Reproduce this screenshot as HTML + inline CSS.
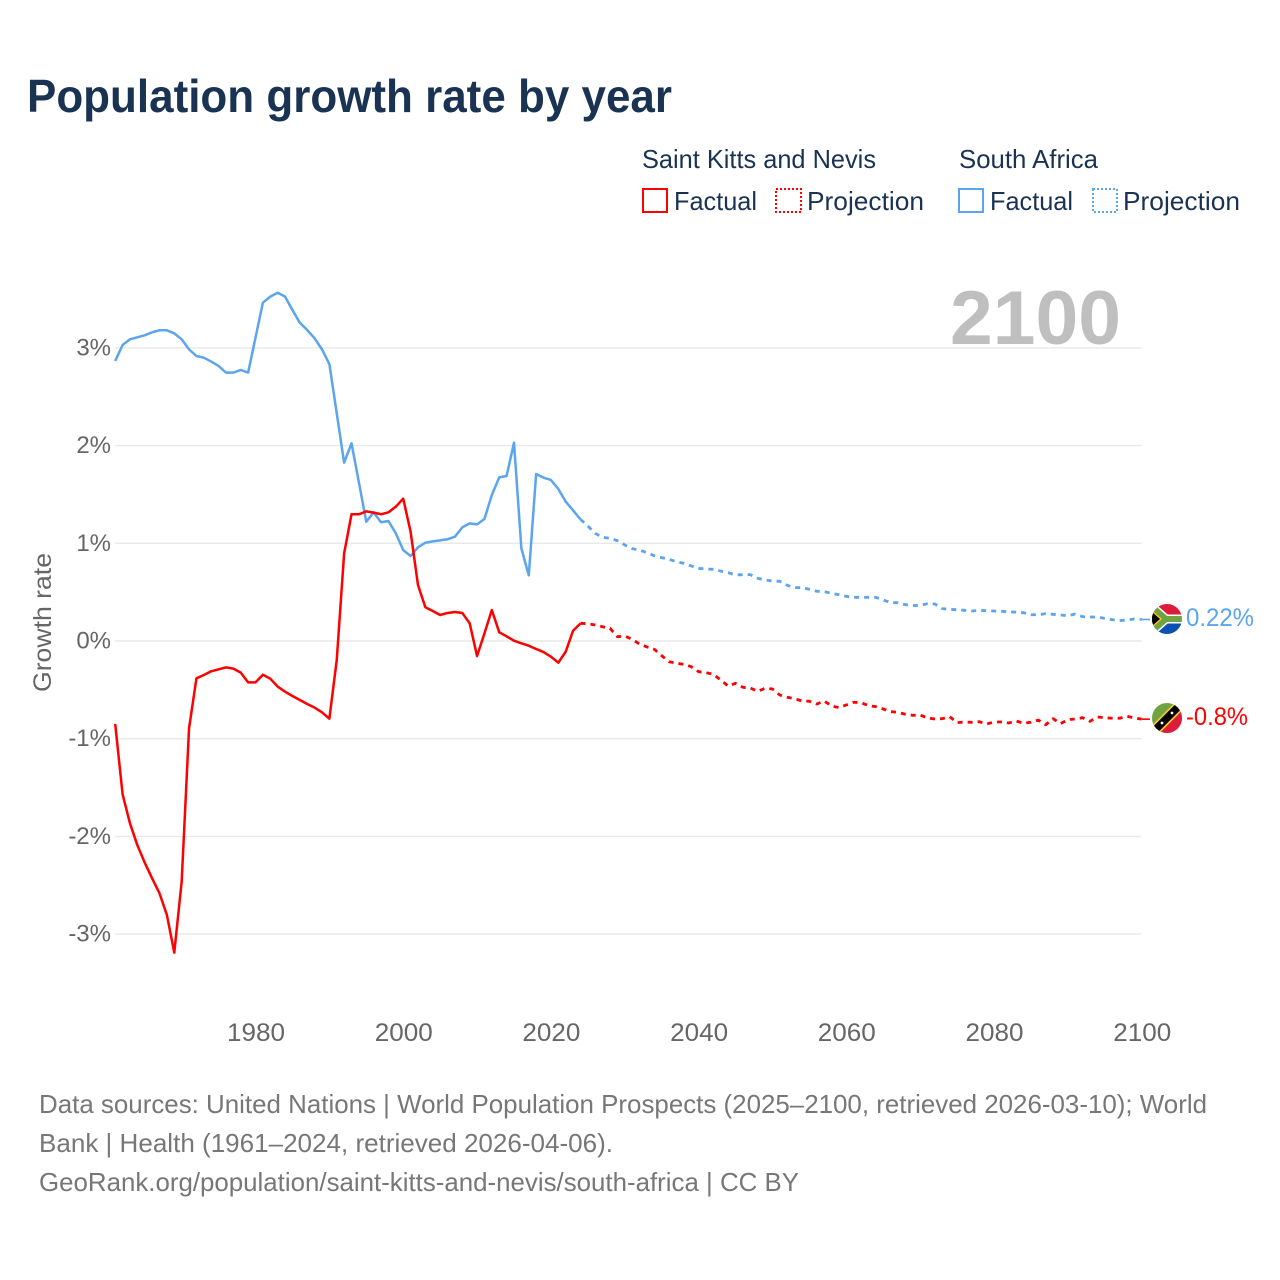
<!DOCTYPE html>
<html lang="en">
<head>
<meta charset="utf-8">
<title>Population growth rate by year</title>
<style>
html,body{margin:0;padding:0;background:#fff;width:1280px;height:1280px;overflow:hidden}
svg{display:block;font-family:"Liberation Sans",sans-serif}
</style>
</head>
<body>
<svg id="chart" xmlns="http://www.w3.org/2000/svg" width="1280" height="1280" viewBox="0 0 1280 1280">
<rect width="1280" height="1280" fill="#fff"/>
<text x="27" y="112" font-size="46" font-weight="700" fill="#1a3353" textLength="645" lengthAdjust="spacingAndGlyphs">Population growth rate by year</text>

<g font-size="26" fill="#1a3353">
<text x="642" y="168" textLength="234" lengthAdjust="spacingAndGlyphs">Saint Kitts and Nevis</text>
<text x="959" y="168" textLength="139" lengthAdjust="spacingAndGlyphs">South Africa</text>
<rect x="643" y="189" width="24" height="23" fill="none" stroke="#ff0000" stroke-width="2"/>
<text x="674" y="210" textLength="83" lengthAdjust="spacingAndGlyphs">Factual</text>
<rect x="776" y="189" width="25" height="23" fill="none" stroke="#ff0000" stroke-width="2" stroke-dasharray="2 2"/>
<text x="807" y="210" textLength="117" lengthAdjust="spacingAndGlyphs">Projection</text>
<rect x="959" y="189" width="24" height="23" fill="none" stroke="#5ba4ee" stroke-width="2"/>
<text x="990" y="210" textLength="83" lengthAdjust="spacingAndGlyphs">Factual</text>
<rect x="1093" y="189" width="24" height="23" fill="none" stroke="#5ba4ee" stroke-width="2" stroke-dasharray="2 2"/>
<text x="1123" y="210" textLength="117" lengthAdjust="spacingAndGlyphs">Projection</text>
</g>

<g id="grid"></g>
<text x="950" y="344" font-size="76" font-weight="700" fill="#bfbfbf" textLength="171" lengthAdjust="spacingAndGlyphs">2100</text>
<g id="ylabels"></g>
<g id="xlabels"></g>
<text transform="translate(51,692) rotate(-90)" font-size="25" fill="#666" textLength="139" lengthAdjust="spacingAndGlyphs">Growth rate</text>
<g id="series"></g>

<defs>
<clipPath id="clip-za"><circle cx="1167" cy="619" r="15"/></clipPath>
<clipPath id="clip-kn"><circle cx="1167" cy="718" r="15"/></clipPath>
</defs>
<g clip-path="url(#clip-za)">
<rect x="1152" y="604" width="30" height="15" fill="#de1b3b"/>
<rect x="1152" y="619" width="30" height="15" fill="#0b50b4"/>
<path d="M1150 604 L1167 619 L1150 634 Z" fill="#000"/>
<path d="M1150 605 L1166 619 L1150 633 M1166 619 L1184 619" fill="none" stroke="#fff" stroke-width="9"/>
<path d="M1150 605 L1166 619 L1150 633 M1166 619 L1184 619" fill="none" stroke="#6fa540" stroke-width="6"/>
<path d="M1148 607.5 L1161 619 L1148 630.5 Z" fill="#000" stroke="#f4c430" stroke-width="1.4"/>
</g>
<g clip-path="url(#clip-kn)">
<rect x="1152" y="703" width="30" height="30" fill="#6fa540"/>
<path d="M1182 703 L1182 733 L1152 733 Z" fill="#de1b3b"/>
<path d="M1152 733 L1182 703" stroke="#f4c430" stroke-width="11"/>
<path d="M1152 733 L1182 703" stroke="#000" stroke-width="7.5"/>
<circle cx="1162" cy="723" r="1.4" fill="#fff"/>
<circle cx="1172" cy="713" r="1.4" fill="#fff"/>
</g>

<g font-size="25">
<text x="1186" y="626" fill="#5ba4ee" textLength="68" lengthAdjust="spacingAndGlyphs">0.22%</text>
<text x="1186" y="725" fill="#ff0000" textLength="62" lengthAdjust="spacingAndGlyphs">-0.8%</text>
</g>

<g font-size="26" fill="#777">
<text x="39" y="1113" textLength="1168" lengthAdjust="spacingAndGlyphs">Data sources: United Nations | World Population Prospects (2025–2100, retrieved 2026-03-10); World</text>
<text x="39" y="1152" textLength="574" lengthAdjust="spacingAndGlyphs">Bank | Health (1961–2024, retrieved 2026-04-06).</text>
<text x="39" y="1191" textLength="760" lengthAdjust="spacingAndGlyphs">GeoRank.org/population/saint-kitts-and-nevis/south-africa | CC BY</text>
</g>
</svg>
<script>
const factualStartYear = 1961;
const projectionStartYear = 2024;
const yTicks = [3, 2, 1, 0, -1, -2, -3];
const yTickLabels = ['3%', '2%', '1%', '0%', '-1%', '-2%', '-3%'];
const xTicks = [1980, 2000, 2020, 2040, 2060, 2080, 2100];

const southAfricaFactual = [
  2.866,3.03,3.088,3.108,3.129,3.16,3.18,3.18,3.149,3.088,
  2.985,2.917,2.9,2.86,2.815,2.747,2.747,2.774,2.747,3.105,
  3.463,3.525,3.565,3.525,3.388,3.258,3.183,3.098,2.985,2.835,
  2.33,1.825,2.023,1.624,1.221,1.317,1.215,1.228,1.102,0.931,
  0.87,0.959,1.006,1.02,1.03,1.041,1.068,1.163,1.204,1.194,
  1.249,1.494,1.675,1.689,2.03,0.948,0.672,1.709,1.672,1.648,
  1.556,1.426,1.338,1.245
];
const southAfricaProjection = [
  1.245,1.177,1.102,1.061,1.051,1.027,0.983,0.945,0.931,0.904,
  0.873,0.853,0.836,0.812,0.795,0.768,0.744,0.737,0.734,0.716,
  0.699,0.676,0.679,0.679,0.642,0.624,0.614,0.611,0.57,0.546,
  0.546,0.529,0.509,0.505,0.488,0.474,0.457,0.447,0.447,0.447,
  0.447,0.42,0.392,0.392,0.372,0.362,0.365,0.382,0.379,0.331,
  0.324,0.32,0.314,0.307,0.314,0.31,0.307,0.304,0.3,0.294,
  0.29,0.269,0.269,0.28,0.273,0.266,0.259,0.276,0.249,0.246,
  0.246,0.232,0.218,0.208,0.215,0.225,0.22
];
const saintKittsFactual = [
  -0.85,-1.569,-1.866,-2.09,-2.269,-2.429,-2.583,-2.804,-3.19,-2.463,
  -0.894,-0.382,-0.348,-0.31,-0.29,-0.27,-0.283,-0.324,-0.423,-0.423,
  -0.345,-0.386,-0.467,-0.519,-0.563,-0.604,-0.645,-0.682,-0.73,-0.795,
  -0.194,0.897,1.297,1.297,1.327,1.314,1.297,1.317,1.375,1.457,
  1.119,0.573,0.345,0.307,0.266,0.287,0.297,0.287,0.181,-0.154,
  0.078,0.317,0.089,0.048,0.003,-0.024,-0.048,-0.082,-0.113,-0.16,
  -0.222,-0.11,0.105,0.181
];
const saintKittsProjection = [
  0.181,0.177,0.164,0.146,0.13,0.044,0.051,0.017,-0.031,-0.061,
  -0.085,-0.15,-0.212,-0.228,-0.239,-0.263,-0.314,-0.324,-0.341,-0.399,
  -0.461,-0.433,-0.474,-0.481,-0.515,-0.484,-0.491,-0.553,-0.576,-0.59,
  -0.614,-0.617,-0.645,-0.614,-0.665,-0.682,-0.655,-0.627,-0.631,-0.662,
  -0.672,-0.696,-0.723,-0.73,-0.75,-0.761,-0.757,-0.788,-0.798,-0.795,
  -0.775,-0.836,-0.829,-0.832,-0.826,-0.85,-0.829,-0.829,-0.839,-0.819,
  -0.842,-0.832,-0.809,-0.857,-0.795,-0.846,-0.805,-0.798,-0.785,-0.822,
  -0.778,-0.785,-0.791,-0.791,-0.771,-0.788,-0.8
];

const NS = 'http://www.w3.org/2000/svg';
const xScale = year => 115.2 + (year - 1961) * 7.385;
const yScale = value => 641 - value * 97.7;

const grid = document.getElementById('grid');
const ylabels = document.getElementById('ylabels');
const xlabels = document.getElementById('xlabels');
const series = document.getElementById('series');

yTicks.forEach((tick, i) => {
  const line = document.createElementNS(NS, 'line');
  line.setAttribute('x1', xScale(factualStartYear));
  line.setAttribute('x2', xScale(2100));
  line.setAttribute('y1', yScale(tick));
  line.setAttribute('y2', yScale(tick));
  line.setAttribute('stroke', '#e9e9e9');
  line.setAttribute('stroke-width', '1.4');
  
  
  grid.appendChild(line);

  const label = document.createElementNS(NS, 'text');
  label.setAttribute('x', '111');
  label.setAttribute('y', yScale(tick) + 7.5);
  label.setAttribute('text-anchor', 'end');
  label.setAttribute('font-size', '24');
  label.setAttribute('fill', '#666');
  
  
  label.textContent = yTickLabels[i];
  ylabels.appendChild(label);
});

xTicks.forEach(tick => {
  const label = document.createElementNS(NS, 'text');
  label.setAttribute('x', xScale(tick) + 0.5);
  label.setAttribute('y', '1041');
  label.setAttribute('text-anchor', 'middle');
  label.setAttribute('font-size', '25');
  label.setAttribute('fill', '#666');
  label.setAttribute('textLength', '58');
  label.setAttribute('lengthAdjust', 'spacingAndGlyphs');
  
  
  label.textContent = tick;
  xlabels.appendChild(label);
});

function pointsFor(values, startYear) {
  return values.map((v, i) => xScale(startYear + i).toFixed(2) + ',' + yScale(v).toFixed(2)).join(' ');
}

function addLine(values, startYear, color, dashed, name) {
  const poly = document.createElementNS(NS, 'polyline');
  poly.setAttribute('points', pointsFor(values, startYear));
  poly.setAttribute('fill', 'none');
  poly.setAttribute('stroke', color);
  poly.setAttribute('stroke-width', dashed ? '2.8' : '2.5');
  poly.setAttribute('stroke-linejoin', 'round');
  if (dashed) poly.setAttribute('stroke-dasharray', '5 5');
  
  
  series.appendChild(poly);
}

function addConnector(value, color, name) {
  const line = document.createElementNS(NS, 'line');
  line.setAttribute('x1', xScale(2100));
  line.setAttribute('x2', '1150');
  line.setAttribute('y1', yScale(value));
  line.setAttribute('y2', yScale(value));
  line.setAttribute('stroke', color);
  line.setAttribute('stroke-width', '1.6');
  
  
  series.appendChild(line);
}

addLine(southAfricaFactual, factualStartYear, '#5ba4ee', false, 'south-africa-factual-line');
addLine(southAfricaProjection, projectionStartYear, '#5ba4ee', true, 'south-africa-projection-line');
addLine(saintKittsFactual, factualStartYear, '#ff0000', false, 'saint-kitts-factual-line');
addLine(saintKittsProjection, projectionStartYear, '#ff0000', true, 'saint-kitts-projection-line');
addConnector(southAfricaProjection[southAfricaProjection.length - 1], '#5ba4ee', 'south-africa-label-connector');
addConnector(saintKittsProjection[saintKittsProjection.length - 1], '#ff0000', 'saint-kitts-label-connector');
</script>
</body>
</html>
